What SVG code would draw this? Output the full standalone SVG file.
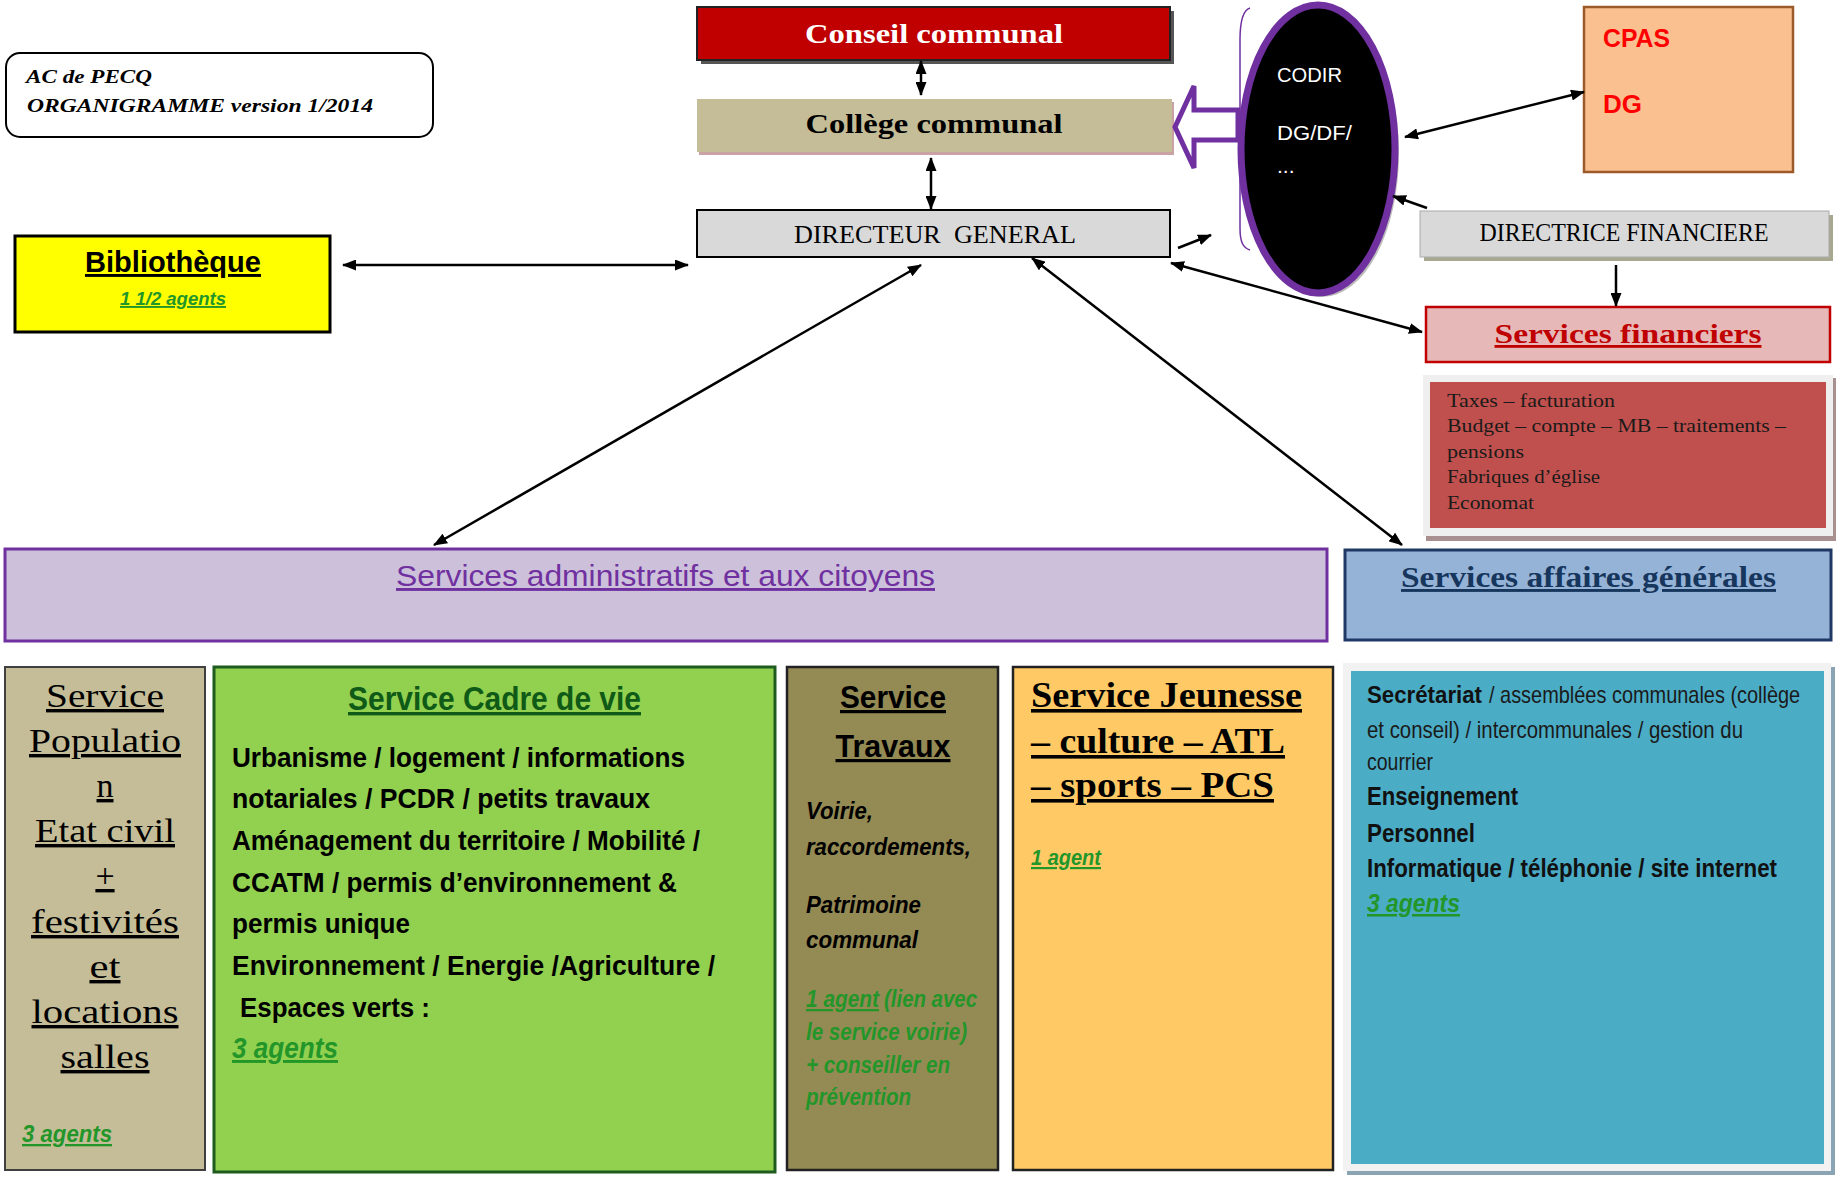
<svg xmlns="http://www.w3.org/2000/svg" width="1837" height="1177" viewBox="0 0 1837 1177">
<style>
.serif{font-family:"Liberation Serif","DejaVu Serif",serif}
.sans{font-family:"Liberation Sans Narrow","Liberation Sans",Arial,sans-serif}
.ui{font-family:"Liberation Sans","DejaVu Sans",sans-serif}
.b{font-weight:bold}
.i{font-style:italic}
.u{text-decoration:underline}
.green{fill:#23962a}
.conn{stroke:#000;stroke-width:2.5;fill:none}
</style>
<defs>
<marker id="ah" viewBox="0 0 14 11" refX="13" refY="5.5" markerWidth="14" markerHeight="11" markerUnits="userSpaceOnUse" orient="auto-start-reverse">
<path d="M0,0 L14,5.5 L0,11 z" fill="#000"/>
</marker>
</defs>
<rect width="1837" height="1177" fill="#fff"/>

<g id="titre">
<rect x="6" y="53" width="427" height="84" rx="14" fill="#fff" stroke="#000" stroke-width="2"/>
<text class="serif b i" x="26" y="83" font-size="19" textLength="126" lengthAdjust="spacingAndGlyphs">AC de PECQ</text>
<text class="serif b i" x="27" y="112" font-size="19" textLength="346" lengthAdjust="spacingAndGlyphs">ORGANIGRAMME version 1/2014</text>
</g>

<g id="conseil">
<rect x="701" y="11" width="473" height="53" fill="#555"/>
<rect x="697" y="7" width="473" height="53" fill="#C00000" stroke="#222" stroke-width="2"/>
<text class="serif b" x="934" y="43" font-size="28" fill="#fff" text-anchor="middle" textLength="258" lengthAdjust="spacingAndGlyphs">Conseil communal</text>
</g>

<g id="college">
<rect x="699" y="102" width="475" height="53" fill="#C9A3A3"/>
<rect x="697" y="99" width="475" height="53" fill="#C4BD97"/>
<text class="serif b" x="934" y="133" font-size="28" fill="#000" text-anchor="middle" textLength="257" lengthAdjust="spacingAndGlyphs">Collège communal</text>
</g>

<g id="directeur">
<rect x="697" y="210" width="473" height="47" fill="#D9D9D9" stroke="#000" stroke-width="2"/>
<text class="serif" x="935" y="243" font-size="25" fill="#000" text-anchor="middle" xml:space="preserve" style="white-space:pre" textLength="282" lengthAdjust="spacingAndGlyphs">DIRECTEUR  GENERAL</text>
</g>

<g id="bibliotheque">
<rect x="15" y="236" width="315" height="96" fill="#FFFF00" stroke="#000" stroke-width="3"/>
<text class="sans b u" x="173" y="272" font-size="29" fill="#000" text-anchor="middle" textLength="176" lengthAdjust="spacingAndGlyphs">Bibliothèque</text>
<text class="sans i b u green" x="173" y="305" font-size="19" text-anchor="middle" textLength="106" lengthAdjust="spacingAndGlyphs">1 1/2 agents</text>
</g>

<g id="codir">
<ellipse cx="1322" cy="153" rx="77" ry="144" fill="#BBB"/>
<ellipse cx="1318" cy="149" rx="77" ry="144" fill="#000" stroke="#7030A0" stroke-width="7"/>
<path d="M1250,8 C1243,10 1240,20 1240,40 L1240,228 C1240,242 1243,248 1250,250" fill="none" stroke="#7030A0" stroke-width="1.5"/>
<polygon points="1175,127 1194,86 1194,110 1238,110 1238,140 1194,140 1194,168" fill="#fff" stroke="#7030A0" stroke-width="5" stroke-linejoin="miter"/>
<text class="ui" x="1277" y="82" font-size="21" fill="#fff" textLength="65" lengthAdjust="spacingAndGlyphs">CODIR</text>
<text class="ui" x="1277" y="140" font-size="21" fill="#fff" textLength="75" lengthAdjust="spacingAndGlyphs">DG/DF/</text>
<text class="ui" x="1277" y="173" font-size="21" fill="#fff">...</text>
</g>

<g id="cpas">
<rect x="1584" y="7" width="209" height="165" fill="#FAC090" stroke="#9C5A2A" stroke-width="2.5"/>
<text class="ui b" x="1603" y="47" font-size="26" fill="#FF0000" textLength="67" lengthAdjust="spacingAndGlyphs">CPAS</text>
<text class="ui b" x="1603" y="113" font-size="26" fill="#FF0000" textLength="39" lengthAdjust="spacingAndGlyphs">DG</text>
</g>

<g id="directrice">
<rect x="1424" y="215" width="409" height="46" fill="#A8A890"/>
<rect x="1420" y="211" width="409" height="46" fill="#D9D9D9" stroke="#aaa" stroke-width="1"/>
<text class="serif" x="1624" y="241" font-size="25" fill="#000" text-anchor="middle" textLength="289" lengthAdjust="spacingAndGlyphs">DIRECTRICE FINANCIERE</text>
</g>

<g id="services-financiers">
<rect x="1426" y="307" width="404" height="55" fill="#E6B9B8" stroke="#C00000" stroke-width="2.5"/>
<text class="serif b u" x="1628" y="343" font-size="28" fill="#C00000" text-anchor="middle" textLength="267" lengthAdjust="spacingAndGlyphs">Services financiers</text>
</g>

<g id="liste-financiers">
<rect x="1426" y="378" width="410" height="163" fill="#A89090"/>
<rect x="1423" y="375" width="410" height="161" fill="#EFEFEF"/>
<rect x="1430" y="382" width="396" height="146" fill="#C0504D"/>
<text class="serif" x="1447" y="407" font-size="19" fill="#1a1a1a" textLength="168" lengthAdjust="spacingAndGlyphs">Taxes – facturation</text>
<text class="serif" x="1447" y="432" font-size="19" fill="#1a1a1a" textLength="339" lengthAdjust="spacingAndGlyphs">Budget – compte – MB – traitements –</text>
<text class="serif" x="1447" y="458" font-size="19" fill="#1a1a1a" textLength="77" lengthAdjust="spacingAndGlyphs">pensions</text>
<text class="serif" x="1447" y="483" font-size="19" fill="#1a1a1a" textLength="153" lengthAdjust="spacingAndGlyphs">Fabriques d’église</text>
<text class="serif" x="1447" y="509" font-size="19" fill="#1a1a1a" textLength="87" lengthAdjust="spacingAndGlyphs">Economat</text>
</g>

<g id="services-administratifs">
<rect x="5" y="549" width="1322" height="92" fill="#CCC0DA" stroke="#7030A0" stroke-width="3"/>
<text class="sans u" x="396" y="586" font-size="29" fill="#7030A0" textLength="539" lengthAdjust="spacingAndGlyphs">Services administratifs et aux citoyens</text>
</g>

<g id="services-affaires-generales">
<rect x="1345" y="550" width="486" height="90" fill="#95B3D7" stroke="#1F3864" stroke-width="3"/>
<text class="serif b u" x="1401" y="587" font-size="29" fill="#17365D" textLength="375" lengthAdjust="spacingAndGlyphs">Services affaires générales</text>
</g>

<g id="service-population">
<rect x="5" y="667" width="200" height="503" fill="#C4BD97" stroke="#404040" stroke-width="2"/>
<g class="serif u" font-size="34" fill="#000" text-anchor="middle">
<text x="105" y="707" textLength="118" lengthAdjust="spacingAndGlyphs">Service</text>
<text x="105" y="752" textLength="152" lengthAdjust="spacingAndGlyphs">Populatio</text>
<text x="105" y="797">n</text>
<text x="105" y="842" textLength="140" lengthAdjust="spacingAndGlyphs">Etat civil</text>
<text x="105" y="887">+</text>
<text x="105" y="933" textLength="148" lengthAdjust="spacingAndGlyphs">festivités</text>
<text x="105" y="978" textLength="31" lengthAdjust="spacingAndGlyphs">et</text>
<text x="105" y="1023" textLength="147" lengthAdjust="spacingAndGlyphs">locations</text>
<text x="105" y="1068" textLength="89" lengthAdjust="spacingAndGlyphs">salles</text>
</g>
<text class="sans b i u green" x="22" y="1142" font-size="23" textLength="90" lengthAdjust="spacingAndGlyphs">3 agents</text>
</g>

<g id="service-cadre-de-vie">
<rect x="214" y="667" width="561" height="505" fill="#92D050" stroke="#1E5B1E" stroke-width="3"/>
<text class="sans b u" x="348" y="710" font-size="34" fill="#0F5A16" textLength="293" lengthAdjust="spacingAndGlyphs">Service Cadre de vie</text>
<g class="sans b" font-size="28" fill="#000" xml:space="preserve" style="white-space:pre">
<text x="232" y="767" textLength="453" lengthAdjust="spacingAndGlyphs">Urbanisme / logement / informations</text>
<text x="232" y="808" textLength="418" lengthAdjust="spacingAndGlyphs">notariales  / PCDR / petits travaux</text>
<text x="232" y="850" textLength="468" lengthAdjust="spacingAndGlyphs">Aménagement du territoire / Mobilité /</text>
<text x="232" y="892" textLength="445" lengthAdjust="spacingAndGlyphs">CCATM / permis d’environnement &amp;</text>
<text x="232" y="933" textLength="178" lengthAdjust="spacingAndGlyphs">permis unique</text>
<text x="232" y="975" textLength="483" lengthAdjust="spacingAndGlyphs">Environnement / Energie  /Agriculture /</text>
<text x="240" y="1017" textLength="190" lengthAdjust="spacingAndGlyphs">Espaces verts :</text>
</g>
<text class="sans b i u green" x="232" y="1058" font-size="29" textLength="106" lengthAdjust="spacingAndGlyphs">3 agents</text>
</g>

<g id="service-travaux">
<rect x="787" y="667" width="211" height="503" fill="#948A54" stroke="#222" stroke-width="2.5"/>
<text class="sans b u" x="893" y="708" font-size="32" fill="#000" text-anchor="middle" textLength="106" lengthAdjust="spacingAndGlyphs">Service</text>
<text class="sans b u" x="893" y="757" font-size="32" fill="#000" text-anchor="middle" textLength="115" lengthAdjust="spacingAndGlyphs">Travaux</text>
<g class="sans b i" font-size="23" fill="#000">
<text x="806" y="819" textLength="67" lengthAdjust="spacingAndGlyphs">Voirie,</text>
<text x="806" y="855" textLength="165" lengthAdjust="spacingAndGlyphs">raccordements,</text>
<text x="806" y="913" textLength="115" lengthAdjust="spacingAndGlyphs">Patrimoine</text>
<text x="806" y="948" textLength="112" lengthAdjust="spacingAndGlyphs">communal</text>
</g>
<g class="sans b i green" font-size="23">
<text class="u" x="806" y="1007" textLength="73" lengthAdjust="spacingAndGlyphs">1 agent</text>
<text x="884" y="1007" textLength="93" lengthAdjust="spacingAndGlyphs">(lien avec</text>
<text x="806" y="1040" textLength="161" lengthAdjust="spacingAndGlyphs">le service voirie)</text>
<text x="806" y="1073" textLength="144" lengthAdjust="spacingAndGlyphs">+ conseiller en</text>
<text x="806" y="1105" textLength="105" lengthAdjust="spacingAndGlyphs">prévention</text>
</g>
</g>

<g id="service-jeunesse">
<rect x="1013" y="667" width="320" height="503" fill="#FFCA66" stroke="#222" stroke-width="2.5"/>
<g class="serif b u" font-size="36" fill="#000">
<text x="1031" y="707" textLength="271" lengthAdjust="spacingAndGlyphs">Service Jeunesse</text>
<text x="1031" y="753" textLength="254" lengthAdjust="spacingAndGlyphs">– culture – ATL</text>
<text x="1031" y="797" textLength="243" lengthAdjust="spacingAndGlyphs">– sports – PCS</text>
</g>
<text class="sans b i u green" x="1031" y="865" font-size="22" textLength="70" lengthAdjust="spacingAndGlyphs">1 agent</text>
</g>

<g id="detail-affaires-generales">
<rect x="1347" y="667" width="488" height="508" fill="#8BA4B4"/>
<rect x="1343" y="663" width="488" height="508" fill="#F2F2F2"/>
<rect x="1351" y="671" width="473" height="493" fill="#4BACC6"/>
<text class="sans b" x="1367" y="703" font-size="24" fill="#111" textLength="115" lengthAdjust="spacingAndGlyphs">Secrétariat</text>
<text class="sans" transform="translate(1489 703) scale(0.8 1)" x="0" y="0" font-size="24" fill="#1a1a1a" textLength="389" lengthAdjust="spacingAndGlyphs">/ assemblées communales (collège</text>
<text class="sans" x="1367" y="738" font-size="24" fill="#1a1a1a" textLength="376" lengthAdjust="spacingAndGlyphs">et conseil) / intercommunales / gestion du</text>
<text class="sans" x="1367" y="770" font-size="24" fill="#1a1a1a" textLength="66" lengthAdjust="spacingAndGlyphs">courrier</text>
<text class="sans b" x="1367" y="805" font-size="25" fill="#111" textLength="151" lengthAdjust="spacingAndGlyphs">Enseignement</text>
<text class="sans b" x="1367" y="842" font-size="25" fill="#111" textLength="108" lengthAdjust="spacingAndGlyphs">Personnel</text>
<text class="sans b" x="1367" y="877" font-size="25" fill="#111" textLength="410" lengthAdjust="spacingAndGlyphs">Informatique / téléphonie / site internet</text>
<text class="sans b i u green" x="1367" y="912" font-size="25" textLength="93" lengthAdjust="spacingAndGlyphs">3 agents</text>
</g>

<g id="connecteurs">
<line class="conn" x1="921" y1="61" x2="921" y2="95" marker-start="url(#ah)" marker-end="url(#ah)"/>
<line class="conn" x1="931" y1="158" x2="931" y2="209" marker-start="url(#ah)" marker-end="url(#ah)"/>
<line class="conn" x1="343" y1="265" x2="688" y2="265" marker-start="url(#ah)" marker-end="url(#ah)"/>
<line class="conn" x1="921" y1="265" x2="434" y2="545" marker-start="url(#ah)" marker-end="url(#ah)"/>
<line class="conn" x1="1032" y1="258" x2="1402" y2="545" marker-start="url(#ah)" marker-end="url(#ah)"/>
<line class="conn" x1="1178" y1="248" x2="1211" y2="235" marker-end="url(#ah)"/>
<line class="conn" x1="1171" y1="263" x2="1422" y2="332" marker-start="url(#ah)" marker-end="url(#ah)"/>
<line class="conn" x1="1427" y1="208" x2="1393" y2="196" marker-end="url(#ah)"/>
<line class="conn" x1="1405" y1="137" x2="1584" y2="92" marker-start="url(#ah)" marker-end="url(#ah)"/>
<line class="conn" x1="1616" y1="265" x2="1616" y2="306" marker-end="url(#ah)"/>
</g>
</svg>
